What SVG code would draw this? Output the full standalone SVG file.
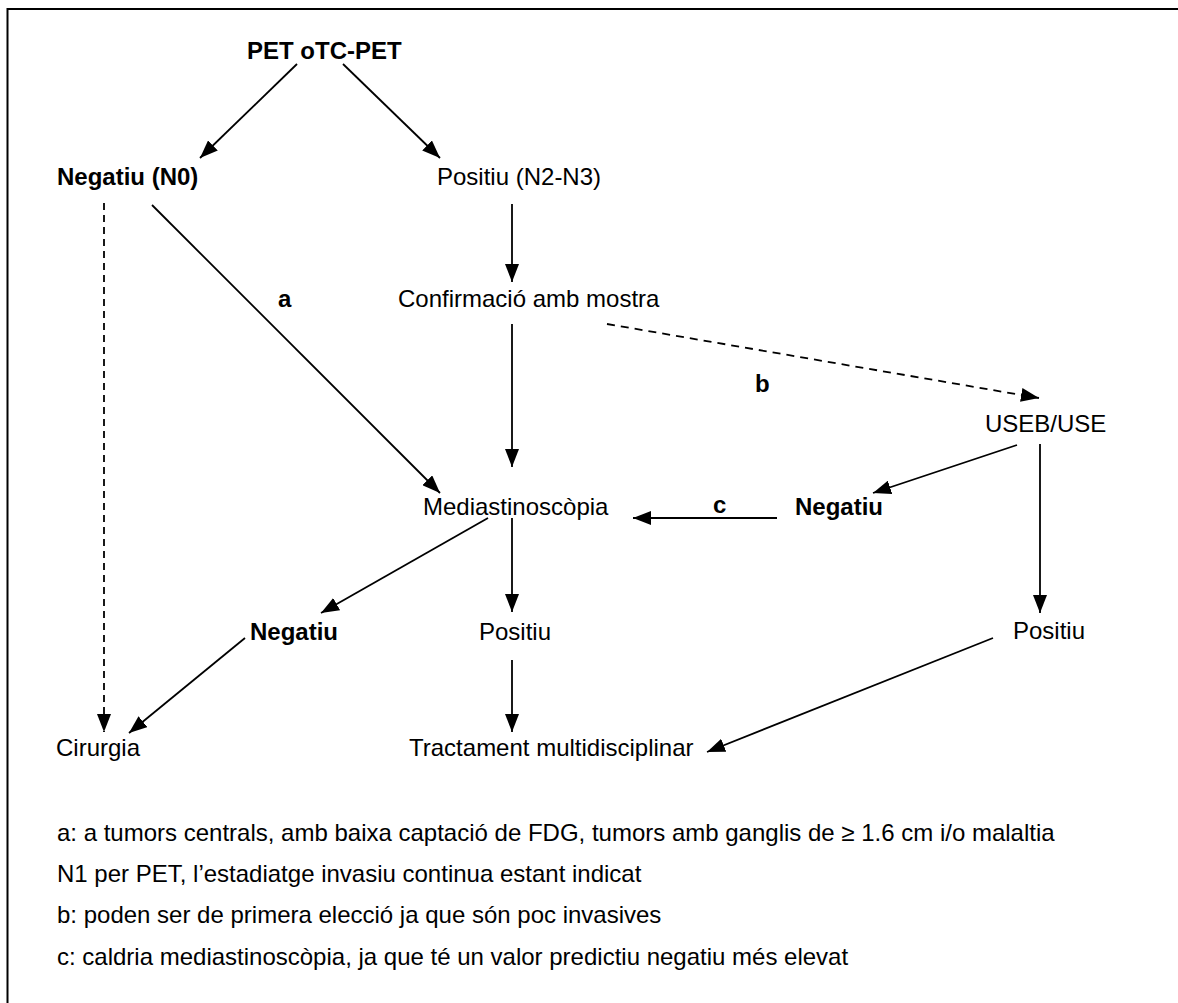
<svg xmlns="http://www.w3.org/2000/svg" width="1178" height="1003" viewBox="0 0 1178 1003">
<style>
text{font-family:"Liberation Sans",Arial,sans-serif;font-size:24px;fill:#000}
.b{font-weight:bold}
.ln{stroke:#000;stroke-width:1.8;fill:none}
.ds{stroke-dasharray:7 5}
</style>
<defs>
<marker id="ah" markerWidth="18" markerHeight="14" refX="18" refY="7" orient="auto" markerUnits="userSpaceOnUse"><path d="M0,0 L18,7 L0,14 z" fill="#000"/></marker>
</defs>
<rect width="1178" height="1003" fill="#fff"/>
<path d="M7.5,1003 V9 H1178" fill="none" stroke="#000" stroke-width="2"/>
<g id="connectors">
<line class="ln" x1="297" y1="64" x2="200" y2="158" marker-end="url(#ah)"/>
<line class="ln" x1="343" y1="64" x2="440" y2="158" marker-end="url(#ah)"/>
<line class="ln ds" x1="104" y1="203" x2="104" y2="732" marker-end="url(#ah)"/>
<line class="ln" x1="152" y1="205" x2="440" y2="493" marker-end="url(#ah)"/>
<line class="ln" x1="512" y1="204" x2="512" y2="282" marker-end="url(#ah)"/>
<line class="ln" x1="512" y1="324" x2="512" y2="467" marker-end="url(#ah)"/>
<line class="ln" x1="607" y1="324" x2="1039" y2="398" stroke-dasharray="8 6" marker-end="url(#ah)"/>
<line class="ln" x1="1017" y1="445" x2="873" y2="493" marker-end="url(#ah)"/>
<line class="ln" x1="1040" y1="444" x2="1040" y2="613" marker-end="url(#ah)"/>
<line class="ln" x1="777" y1="518" x2="633" y2="518" marker-end="url(#ah)"/>
<line class="ln" x1="488" y1="518" x2="321" y2="613" marker-end="url(#ah)"/>
<line class="ln" x1="512" y1="518" x2="512" y2="612" marker-end="url(#ah)"/>
<line class="ln" x1="245" y1="638" x2="129" y2="733" marker-end="url(#ah)"/>
<line class="ln" x1="512" y1="660" x2="512" y2="732" marker-end="url(#ah)"/>
<line class="ln" x1="993" y1="638" x2="707" y2="752" marker-end="url(#ah)"/>
<text class="b" x="278" y="307">a</text>
<text class="b" x="755" y="392">b</text>
<text class="b" x="713" y="513">c</text>
</g>
<g id="n-pet"><text class="b" x="247" y="59">PET oTC-PET</text></g>
<g id="n-neg0"><text class="b" x="57" y="185">Negatiu (N0)</text></g>
<g id="n-pos23"><text x="437" y="185">Positiu (N2-N3)</text></g>
<g id="n-conf"><text x="398" y="307">Confirmació amb mostra</text></g>
<g id="n-useb"><text x="985" y="432">USEB/USE</text></g>
<g id="n-med"><text x="423" y="515">Mediastinoscòpia</text></g>
<g id="n-negr"><text class="b" x="795" y="515">Negatiu</text></g>
<g id="n-negl"><text class="b" x="250" y="640">Negatiu</text></g>
<g id="n-posm"><text x="479" y="640">Positiu</text></g>
<g id="n-posr"><text x="1013" y="639">Positiu</text></g>
<g id="n-cir"><text x="56" y="756">Cirurgia</text></g>
<g id="n-tract"><text x="409" y="756">Tractament multidisciplinar</text></g>
<g id="notes">
<text x="57" y="841">a: a tumors centrals, amb baixa captació de FDG, tumors amb ganglis de ≥ 1.6 cm i/o malaltia</text>
<text x="57" y="882">N1 per PET, l’estadiatge invasiu continua estant indicat</text>
<text x="57" y="923">b: poden ser de primera elecció ja que són poc invasives</text>
<text x="57" y="965">c: caldria mediastinoscòpia, ja que té un valor predictiu negatiu més elevat</text>
</g>
</svg>
